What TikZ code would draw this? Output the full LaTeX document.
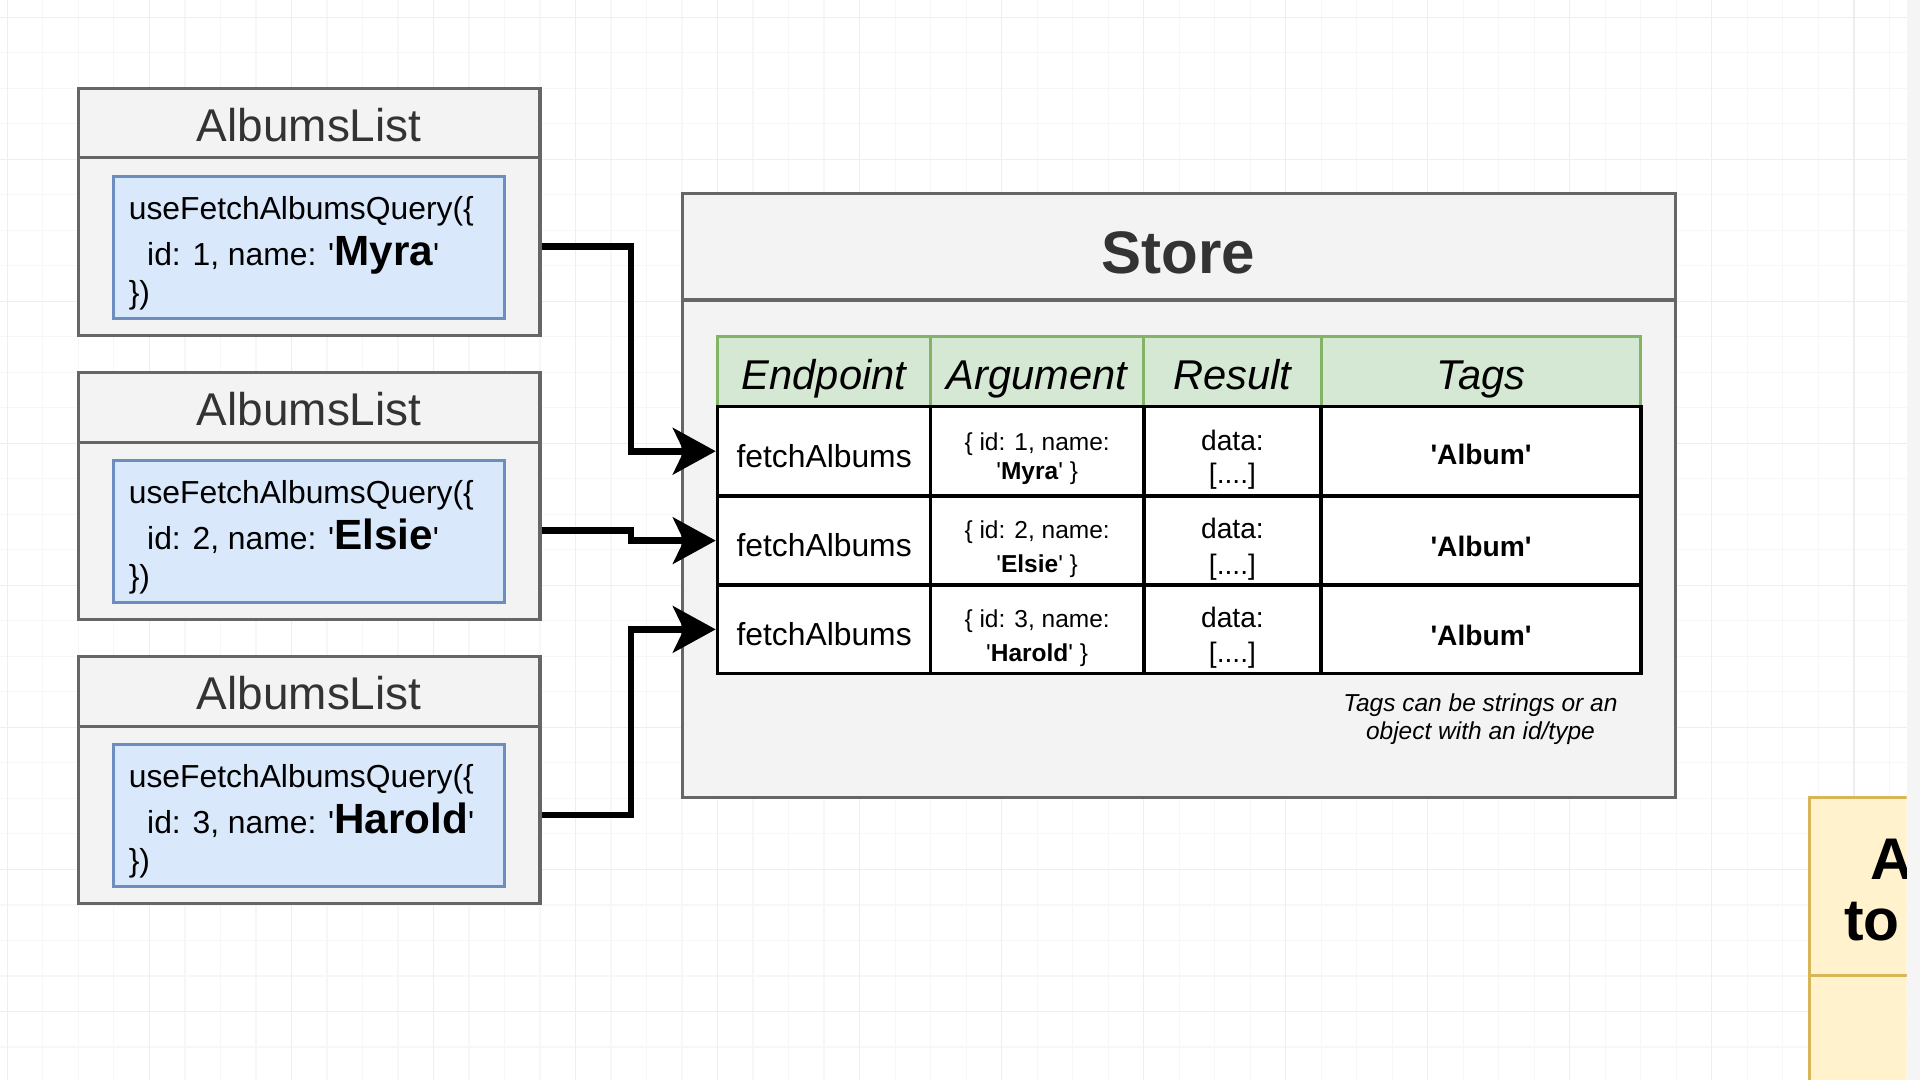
\documentclass[tikz,border=0pt]{standalone}
\usepackage{fontspec}
\setmainfont{Liberation Sans}[Ligatures=TeXOff]
\usetikzlibrary{arrows.meta}

\definecolor{boxgray}{HTML}{F3F3F3}
\definecolor{boxline}{HTML}{666666}
\definecolor{qfill}{HTML}{DAE8FC}
\definecolor{qline}{HTML}{6C8EBF}
\definecolor{hfill}{HTML}{D5E8D4}
\definecolor{hline}{HTML}{82B366}
\definecolor{yfill}{HTML}{FFF2CC}
\definecolor{yline}{HTML}{D6B656}
\definecolor{txtgray}{HTML}{333333}
\definecolor{gridminor}{HTML}{F7F7F7}
\definecolor{gridmajor}{HTML}{EEEEEE}

\begin{document}
\begin{tikzpicture}[x=1pt,y=-1pt,
  part/.style={draw=boxline, fill=boxgray, line width=2.5pt, inner sep=0pt},
  parttitle/.style={part, text=txtgray, text height=31pt, text depth=1pt, font=\fontsize{37.5}{42}\selectfont},
  query/.style={draw=qline, fill=qfill, line width=2.5pt, inner sep=0pt},
  qtext/.style={inner sep=0pt, font=\fontsize{26}{30}\selectfont},
  headcell/.style={draw=hline, fill=hfill, line width=2.5pt, inner sep=0pt, text height=31pt, text depth=2pt, font=\fontsize{34}{40}\selectfont\itshape},
  cell/.style={draw=black, fill=white, line width=3pt, inner sep=0pt},
  celltext/.style={inner sep=0pt, align=center},
  link/.style={line width=5.5pt, -{Stealth[length=35pt,width=38pt,inset=9pt]}}]

\useasboundingbox (0,0) rectangle (1568,882);
\fill [white] (0,0) rectangle (1568,882);

% background grid
\foreach \gx in {6,35,...,1568} \draw [gridminor, line width=1pt] (\gx,0) -- (\gx,882);
\foreach \gy in {14,43,...,882} \draw [gridminor, line width=1pt] (0,\gy) -- (1568,\gy);
\foreach \gx in {6,122,...,1568} \draw [gridmajor, line width=1pt] (\gx,0) -- (\gx,882);
\foreach \gy in {14,130,...,882} \draw [gridmajor, line width=1pt] (0,\gy) -- (1568,\gy);

% AlbumsList 1
\node (head1) [parttitle, minimum width=377, minimum height=57] at (252.5,100.5) {AlbumsList};
\node (body1) [part, minimum width=377, minimum height=145] at (252.5,201.5) {};
\node (query1) [query, minimum width=319, minimum height=116] at (252.5,202) {};
\node (q1top) [qtext, anchor=base west] at (105,179.5) {useFetchAlbumsQuery(\{};
\node (q1mid) [qtext, anchor=base west] at (120,217) {id: 1, name: '\textbf{\fontsize{34.5}{40}\selectfont Myra}'};
\node (q1end) [qtext, anchor=base west] at (105,248) {\})};

% AlbumsList 2
\node (head2) [parttitle, minimum width=377, minimum height=57] at (252.5,332.5) {AlbumsList};
\node (body2) [part, minimum width=377, minimum height=145] at (252.5,433.5) {};
\node (query2) [query, minimum width=319, minimum height=116] at (252.5,434) {};
\node (q2top) [qtext, anchor=base west] at (105,411.5) {useFetchAlbumsQuery(\{};
\node (q2mid) [qtext, anchor=base west] at (120,449) {id: 2, name: '\textbf{\fontsize{34.5}{40}\selectfont Elsie}'};
\node (q2end) [qtext, anchor=base west] at (105,480) {\})};

% AlbumsList 3
\node (head3) [parttitle, minimum width=377, minimum height=57] at (252.5,564.5) {AlbumsList};
\node (body3) [part, minimum width=377, minimum height=145] at (252.5,665.5) {};
\node (query3) [query, minimum width=319, minimum height=116] at (252.5,666) {};
\node (q3top) [qtext, anchor=base west] at (105,643.5) {useFetchAlbumsQuery(\{};
\node (q3mid) [qtext, anchor=base west] at (120,681) {id: 3, name: '\textbf{\fontsize{34.5}{40}\selectfont Harold}'};
\node (q3end) [qtext, anchor=base west] at (105,712) {\})};

% Store
\node (storehead) [part, minimum width=811, minimum height=87, text=txtgray, text height=45pt, text depth=2pt, font=\fontsize{49}{54}\selectfont\bfseries] at (962.5,201.5) {Store};
\node (storebody) [part, minimum width=811, minimum height=406] at (962.5,448) {};

% table header
\node (hEndpoint) [headcell, minimum width=174, minimum height=57] at (673,303.5) {Endpoint};
\node (hArgument) [headcell, minimum width=174, minimum height=57] at (847,303.5) {Argument};
\node (hResult) [headcell, minimum width=145, minimum height=57] at (1006.5,303.5) {Result};
\node (hTags) [headcell, minimum width=261, minimum height=57] at (1209.5,303.5) {Tags};

% table rows
\node (ep1) [cell, minimum width=174, minimum height=73] at (673,368.5) {};
\node (arg1) [cell, minimum width=174, minimum height=73] at (847,368.5) {};
\node (res1) [cell, minimum width=145, minimum height=73] at (1006.5,368.5) {};
\node (tag1) [cell, minimum width=261, minimum height=73] at (1209.5,368.5) {};

\node (ep2) [cell, minimum width=174, minimum height=73] at (673,441.5) {};
\node (arg2) [cell, minimum width=174, minimum height=73] at (847,441.5) {};
\node (res2) [cell, minimum width=145, minimum height=73] at (1006.5,441.5) {};
\node (tag2) [cell, minimum width=261, minimum height=73] at (1209.5,441.5) {};

\node (ep3) [cell, minimum width=174, minimum height=72] at (673,514) {};
\node (arg3) [cell, minimum width=174, minimum height=72] at (847,514) {};
\node (res3) [cell, minimum width=145, minimum height=72] at (1006.5,514) {};
\node (tag3) [cell, minimum width=261, minimum height=72] at (1209.5,514) {};

% cell texts
\node (ep1txt) [celltext, font=\fontsize{26}{30}\selectfont] at ([yshift=-4pt]ep1.center) {fetchAlbums};
\node (arg1txt) [celltext, font=\fontsize{20}{24}\selectfont] at ([yshift=-6pt]arg1.center) {\{ id: 1, name:\\'\textbf{Myra}' \}};
\node (res1txt) [celltext, font=\fontsize{23}{27}\selectfont] at ([yshift=-7pt]res1.center) {data:\\{[....]}};
\node (tag1txt) [celltext, font=\fontsize{23}{27}\selectfont\bfseries] at ([yshift=-3pt]tag1.center) {'Album'};

\node (ep2txt) [celltext, font=\fontsize{26}{30}\selectfont] at ([yshift=-4pt]ep2.center) {fetchAlbums};
\node (arg2txt) [celltext, font=\fontsize{20}{28}\selectfont] at ([yshift=-7pt]arg2.center) {\{ id: 2, name:\\'\textbf{Elsie}' \}};
\node (res2txt) [celltext, font=\fontsize{23}{29}\selectfont] at ([yshift=-7pt]res2.center) {data:\\{[....]}};
\node (tag2txt) [celltext, font=\fontsize{23}{27}\selectfont\bfseries] at ([yshift=-5pt]tag2.center) {'Album'};

\node (ep3txt) [celltext, font=\fontsize{26}{30}\selectfont] at ([yshift=-4pt]ep3.center) {fetchAlbums};
\node (arg3txt) [celltext, font=\fontsize{20}{28}\selectfont] at ([yshift=-7pt]arg3.center) {\{ id: 3, name:\\'\textbf{Harold}' \}};
\node (res3txt) [celltext, font=\fontsize{23}{29}\selectfont] at ([yshift=-7pt]res3.center) {data:\\{[....]}};
\node (tag3txt) [celltext, font=\fontsize{23}{27}\selectfont\bfseries] at ([yshift=-5pt]tag3.center) {'Album'};

\node (note) [align=center, font=\fontsize{20}{23}\selectfont\itshape] at (1209,587) {Tags can be strings or an\\object with an id/type};

% links
\draw [link] (body1.east) -- ++(73,0) |- (ep1.west);
\draw [link] (body2.east) -- ++(73,0) |- (ep2.west);
\draw [link] (body3.east) -- ++(73,0) |- (ep3.west);

% cut-off box at the right
\begin{scope}
\clip (0,0) rectangle (1557,882);
\node (nexthead) [draw=yline, fill=yfill, line width=2.5pt, minimum width=260, minimum height=146] at (1608,724) {};
\node (nextbody) [draw=yline, fill=yfill, line width=2.5pt, minimum width=260, minimum height=120] at (1608,857) {};
\node (nextA) [inner sep=0pt, anchor=base west, font=\fontsize{48}{54}\selectfont\bfseries] at (1527,718) {A};
\node (nextto) [inner sep=0pt, anchor=base west, font=\fontsize{48}{54}\selectfont\bfseries] at (1506,768) {to};
\end{scope}
\fill [black!4] (1557,0) rectangle (1568,882);

\end{tikzpicture}
\end{document}
